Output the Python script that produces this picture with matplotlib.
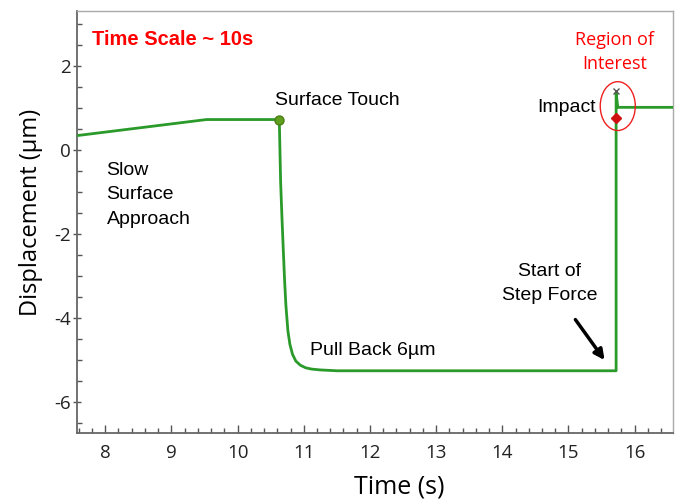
import matplotlib.pyplot as plt
from matplotlib.patches import Ellipse
from matplotlib.ticker import MultipleLocator

plt.rcParams['axes.unicode_minus'] = False

# displacement trace (time in s, displacement in um)
time_s = [7.58, 9.53, 10.63, 10.65, 10.67, 10.69, 10.71, 10.73, 10.76, 10.79,
          10.83, 10.88, 10.95, 11.03, 11.12, 11.25, 11.5, 11.8, 15.72, 15.72,
          15.745, 16.6]
disp_um = [0.34, 0.72, 0.72, -0.76, -1.6, -2.36, -3.1, -3.7, -4.3, -4.62,
           -4.86, -5.02, -5.12, -5.18, -5.21, -5.23, -5.25, -5.25, -5.25, 1.36,
           1.01, 1.01]

touch_t, touch_d = 10.63, 0.72
impact_t, impact_d = 15.72, 0.76
peak_t, peak_d = 15.72, 1.40

x_ticks = [8, 9, 10, 11, 12, 13, 14, 15, 16]
y_ticks = [-6, -4, -2, 0, 2]

ann_font = 'Liberation Sans'
ann_size = 14

fig = plt.figure(figsize=(6.76, 4.99), dpi=100)
ax = fig.add_axes([0.1146, 0.133, 0.881, 0.845])

ax.plot(time_s, disp_um, color='#2a9a2a', lw=2.0, zorder=3)
ax.plot(touch_t, touch_d, 'o', color='#5f9e1e', mec='#4a7f14', ms=6.5, zorder=4)
ax.plot(impact_t, impact_d, 'D', color='#d01010', ms=5, zorder=5)
ax.plot(peak_t, peak_d, 'x', color='#555555', ms=5, mew=1.0, zorder=5)

ax.add_patch(Ellipse((15.745, 1.04), 0.53, 1.16, fill=False, ec='#ee2020', lw=1.0, zorder=6))

ax.annotate('', xy=(15.57, -5.05), xytext=(15.08, -3.98),
            arrowprops=dict(arrowstyle='-|>,head_length=0.6,head_width=0.3', color='black', lw=2.5))

ax.text(7.8, 2.62, 'Time Scale ~ 10s', color='#ff0000', fontsize=14.5,
        fontweight='bold', family=ann_font, va='center', ha='left')
ax.text(10.56, 1.18, 'Surface Touch', fontsize=ann_size, family=ann_font, va='center', ha='left')
ax.text(8.02, -1.07, 'Slow\nSurface\nApproach', fontsize=ann_size, family=ann_font,
        va='center', ha='left', linespacing=1.55)
ax.text(11.1, -4.77, 'Pull Back 6µm', fontsize=ann_size, family=ann_font, va='center', ha='left')
ax.text(14.72, -3.18, 'Start of\nStep Force', fontsize=ann_size, family=ann_font,
        va='center', ha='center', linespacing=1.55)
ax.text(15.42, 1.0, 'Impact', fontsize=ann_size, family=ann_font, va='center', ha='right')
ax.text(15.7, 2.33, 'Region of\nInterest', color='#ff0000', fontsize=13,
        family='Open Sans', va='center', ha='center', linespacing=1.42)

ax.set_xlim(7.58, 16.58)
ax.set_ylim(-6.72, 3.3)
ax.set_xticks(x_ticks)
ax.set_yticks(y_ticks)
ax.xaxis.set_minor_locator(MultipleLocator(0.2))
ax.yaxis.set_minor_locator(MultipleLocator(0.5))
ax.tick_params(axis='x', which='major', direction='in', length=6, width=1, color='#555555',
               labelsize=13.5, pad=8)
ax.tick_params(axis='x', which='minor', direction='in', length=3.5, width=1, color='#555555')
ax.tick_params(axis='y', which='major', direction='inout', length=6, width=1, color='#555555',
               labelsize=13.5, pad=2)
ax.tick_params(axis='y', which='minor', direction='in', length=3.5, width=1, color='#555555')
for lab in ax.get_xticklabels() + ax.get_yticklabels():
    lab.set_family('Open Sans')
    lab.set_color('#222222')

for side in ['left', 'bottom']:
    ax.spines[side].set_color('#666666')
    ax.spines[side].set_linewidth(1.3)
for side in ['top', 'right']:
    ax.spines[side].set_color('#aaaaaa')
    ax.spines[side].set_linewidth(1.0)

ax.set_xlabel('Time (s)', fontsize=18, family='Open Sans')
ax.set_ylabel('Displacement (µm)', fontsize=17, family='Open Sans')
ax.xaxis.set_label_coords(0.54, -0.10)
ax.yaxis.set_label_coords(-0.058, 0.523)

fig.savefig('out.png', dpi=100)
